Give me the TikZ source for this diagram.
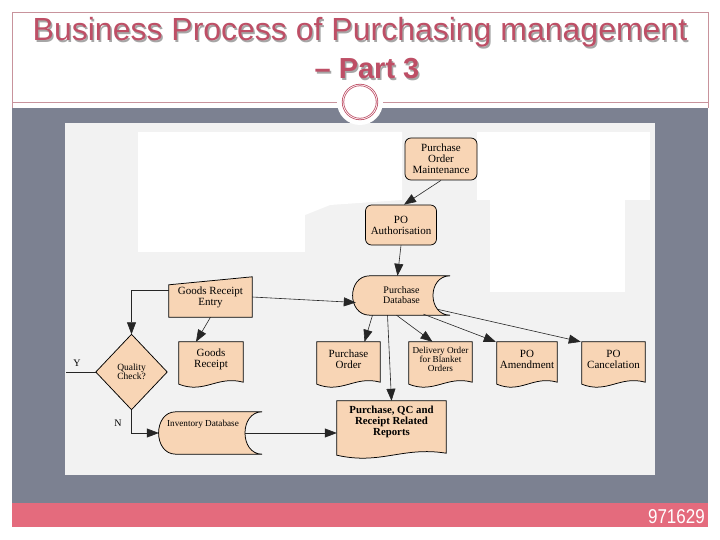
\documentclass[tikz,border=0pt]{standalone}
\usepackage{fontspec}
\setmainfont{Liberation Serif}
\newfontfamily\titlefont{Liberation Sans}
\usetikzlibrary{arrows.meta,calc}
\pgfdeclarelayer{bgslide}
\pgfdeclarelayer{bgshape}
\pgfsetlayers{bgslide,bgshape,main}

\definecolor{slidegray}{HTML}{7C8191}
\definecolor{barpink}{HTML}{E46B7D}
\definecolor{titlered}{HTML}{BE4F66}
\definecolor{frameline}{HTML}{C8939C}
\definecolor{panel}{HTML}{F2F2F2}
\definecolor{peach}{HTML}{F8D5B5}

\newcommand\docshape[2]{%
  \path[shp] (#1.north west) -- (#1.north east) -- ($(#1.south east)+(0,#2-2)$)
    .. controls ($(#1.south west)!0.6!(#1.south east)+(0,#2-9)$)
       and ($(#1.south west)!0.4!(#1.south east)+(0,#2+10)$) ..
    ($(#1.south west)+(0,#2)$) -- cycle;}
\newcommand\storedshape[2]{%
  \path[shp] ($(#1.north west)+(#2,0)$) -- (#1.north east)
    .. controls +(-1.35*#2,0) and +(-1.35*#2,0) .. (#1.south east)
    -- ($(#1.south west)+(#2,0)$)
    .. controls +(-1.35*#2,0) and +(-1.35*#2,0) .. ($(#1.north west)+(#2,0)$) -- cycle;}

\begin{document}
\begin{tikzpicture}[x=1pt,y=-1pt,
  box/.style={inner sep=0pt, align=center, font=\fontsize{11}{11}\selectfont},
  rbox/.style={box, draw=black, fill=peach, line width=0.75pt, rounded corners=6pt},
  shp/.style={fill=peach, draw=black, line width=0.75pt},
  conn/.style={draw=black!85, line width=0.6pt, -{Triangle[length=12pt,width=9pt]}},
  lab/.style={inner sep=0pt, font=\fontsize{10}{10}\selectfont},
]
\useasboundingbox (0,0) rectangle (720,540);

% ---------- slide background ----------
\begin{pgfonlayer}{bgslide}
  \fill[white] (0,0) rectangle (720,540);
  \fill[slidegray] (12,108) rectangle (708,503);
  \fill[barpink] (12,503) rectangle (708,527);
  \draw[frameline, line width=0.8pt] (12,108) -- (12,12) -- (708,12) -- (708,108);
  \draw[frameline, line width=0.8pt] (12,102) -- (708,102);
  \fill[panel] (65,123) rectangle (655,475);
  \fill[white] (138,132) rectangle (305,252);
  \fill[white] (305,132) -- (402,132) -- (402,200) -- (330,205) -- (305,215) -- cycle;
  \fill[white] (477,132) rectangle (650,200);
  \fill[white] (490,200) rectangle (625,292);
  \fill[white] (360,102) circle (23pt);
  \draw[titlered, line width=0.8pt, double=white, double distance=0.7pt] (360,102) circle (17pt);
\end{pgfonlayer}

% ---------- title ----------
\node[anchor=base, text=black!35, font=\titlefont\fontsize{32}{38}\selectfont] (t1s) at (361.5,42.5) {Business Process of Purchasing management};
\node[anchor=base, text=titlered, font=\titlefont\fontsize{32}{38}\selectfont] (t1) at (360,41) {Business Process of Purchasing management};
\node[anchor=base, text=black!35, font=\titlefont\bfseries\fontsize{29}{38}\selectfont] (t2s) at (368.5,80.5) {– Part 3};
\node[anchor=base, text=titlered, font=\titlefont\bfseries\fontsize{29}{38}\selectfont] (t2) at (367,79) {– Part 3};

% ---------- footer ----------
\node[anchor=base east, text=white, inner sep=0pt, font=\titlefont\fontsize{20}{20}\selectfont] (pg) at (705,523) {\scalebox{0.85}[1]{971629}};

% ---------- nodes ----------
\node[rbox, minimum width=72pt, minimum height=42pt] (pom) at (441,159) {Purchase\\Order\\Maintenance};
\node[rbox, minimum width=71pt, minimum height=40pt] (poa) at (401,225) {PO\\Authorisation};
\node[box, minimum width=97pt, minimum height=39pt, font=\fontsize{10}{10}\selectfont] (pdb) at (401.5,295.5) {Purchase\\Database};
\node[box, minimum width=83pt, minimum height=40pt] (gre) at (210.5,297) {Goods Receipt\\Entry};
\node[box, minimum width=71pt, minimum height=75pt, font=\fontsize{9.5}{9.5}\selectfont] (qc) at (131.5,372) {Quality\\Check?};
\node[box, minimum width=64pt, minimum height=35pt] (gr) at (211,359.5) {Goods\\Receipt};
\node[box, minimum width=63pt, minimum height=35pt] (po) at (348.5,359.5) {Purchase\\Order};
\node[box, minimum width=63pt, minimum height=35pt, font=\fontsize{9.2}{8.8}\selectfont] (do) at (440.5,359.5) {Delivery Order\\for Blanket\\Orders};
\node[box, minimum width=60pt, minimum height=35pt] (poam) at (527,359.5) {PO\\Amendment};
\node[box, minimum width=63pt, minimum height=35pt] (poc) at (613.5,359.5) {PO\\Cancelation};
\node[box, minimum width=109pt, minimum height=42pt, font=\bfseries\fontsize{10.8}{10.8}\selectfont] (rep) at (391.5,422) {Purchase, QC and\\Receipt Related\\Reports};
\node[box, minimum width=103pt, minimum height=42pt] (inv) at (210.5,433) {};
\node[box, font=\fontsize{9.2}{9}\selectfont] (invt) at (203,424) {Inventory Database};
\node[lab] (ylab) at (77,363) {Y};
\node[lab] (nlab) at (118,423) {N};
\coordinate (ycut) at (66,372);

% ---------- shapes ----------
\begin{pgfonlayer}{bgshape}
  \storedshape{pdb}{17}
  \storedshape{inv}{17}
  \path[shp] (gre.south west) -- ($(gre.north west)+(0,8)$) -- (gre.north east) -- (gre.south east) -- cycle;
  \path[shp] (qc.north) -- (qc.east) -- (qc.south) -- (qc.west) -- cycle;
  \docshape{gr}{7}
  \docshape{po}{7}
  \docshape{do}{7}
  \docshape{poam}{7}
  \docshape{poc}{7}
  \docshape{rep}{12}
\end{pgfonlayer}

% ---------- connectors ----------
\draw[conn] (pom.south) -- ($(poa.north)+(3,0)$);
\draw[conn] (poa.south) -- ($(pdb.north)+(-4,0)$);
\draw[conn] (gre.east) -- ($(pdb.west)+(3,7)$);
\draw[conn] ($(gre.west)+(0,-7)$) -| (qc.north);
\draw[conn] (gre.south) -- ($(gr.north)+(-15,0)$);
\draw[conn] (qc.south) |- (inv.west);
\draw[draw=black!85, line width=0.6pt] (qc.west) -- (ycut);
\draw[conn] ($(inv.east)+(-17,0)$) -- (inv.east -| rep.west);
\draw[conn] ($(pdb.south)+(-29,0)$) -- ($(po.north)+(16,0)$);
\draw[conn] ($(pdb.south)+(-14,0)$) -- (rep.north);
\draw[conn] ($(pdb.south)+(-5,0)$) -- ($(do.north)+(-8,0)$);
\draw[conn] ($(pdb.south)+(22,-1)$) -- ($(poam.north west)+(-1,0)$);
\draw[conn] ($(pdb.south east)+(-13,-6)$) -- ($(poc.north west)+(-1,0)$);
\end{tikzpicture}
\end{document}
